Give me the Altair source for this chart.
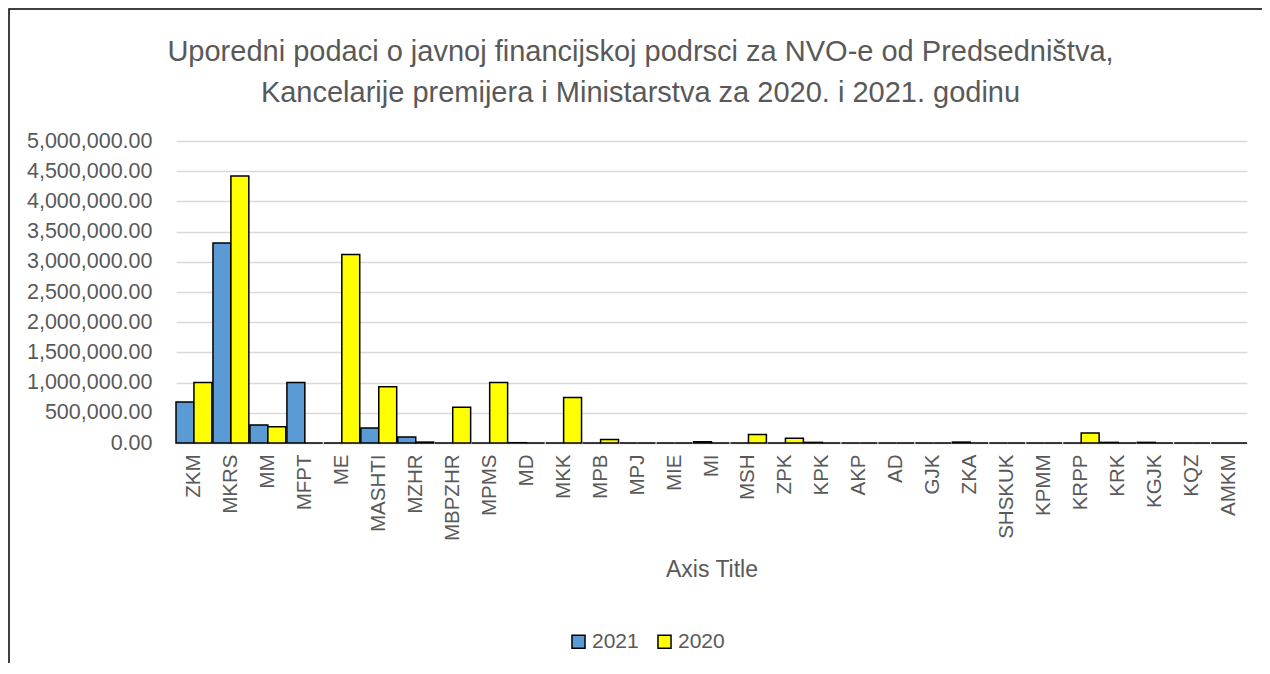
import altair as alt
import pandas as pd

categories = ["ZKM", "MKRS", "MM", "MFPT", "ME", "MASHTI", "MZHR", "MBPZHR", "MPMS", "MD",
              "MKK", "MPB", "MPJ", "MIE", "MI", "MSH", "ZPK", "KPK", "AKP", "AD",
              "GJK", "ZKA", "SHSKUK", "KPMM", "KRPP", "KRK", "KGJK", "KQZ", "AMKM"]
values_2021 = [680000, 3310000, 300000, 1000000, 0, 250000, 100000, 0, 0, 5000,
               0, 0, 0, 0, 20000, 0, 0, 10000, 0, 0,
               0, 15000, 0, 0, 0, 10000, 10000, 0, 0]
values_2020 = [1000000, 4420000, 270000, 0, 3120000, 930000, 15000, 590000, 1000000, 0,
               755000, 60000, 0, 0, 0, 140000, 80000, 0, 0, 0,
               0, 0, 0, 0, 165000, 0, 0, 0, 0]
series = ["2021", "2020"]
colors = ["#5B9BD5", "#FFFF00"]
y_ticks = [i * 500000 for i in range(11)]

title_lines = ["Uporedni podaci o javnoj financijskoj podrsci  za NVO-e od Predsedništva,",
               "Kancelarije premijera i Ministarstva za 2020. i 2021. godinu"]

rows = []
for c, v21, v20 in zip(categories, values_2021, values_2020):
    rows.append({"cat": c, "year": "2021", "value": v21})
    rows.append({"cat": c, "year": "2020", "value": v20})
df = pd.DataFrame(rows)

FONT = "Liberation Sans"
GRAY = "#595959"

bars = alt.Chart(df).mark_bar(stroke="black", strokeWidth=1.5).encode(
    x=alt.X("cat:N", sort=categories,
            scale=alt.Scale(paddingInner=0.03, paddingOuter=0.0),
            axis=alt.Axis(title="Axis Title", labelAngle=270, labelFontSize=20.5,
                          labelColor=GRAY, labelFont=FONT, labelPadding=11,
                          titleFont=FONT, titleFontSize=23, titleColor=GRAY,
                          titleFontWeight="normal", titlePadding=18,
                          domainColor="#D9D9D9", domainWidth=1.5,
                          ticks=False, labelAlign="right", labelBaseline="middle")),
    xOffset=alt.XOffset("year:N", sort=series, scale=alt.Scale(paddingInner=0, paddingOuter=0)),
    y=alt.Y("value:Q", scale=alt.Scale(domain=[0, 5000000], nice=False),
            axis=alt.Axis(title=None, values=y_ticks, format=",.2f", labelFontSize=21.5,
                          labelColor=GRAY, labelFont=FONT, labelPadding=24,
                          domain=False, ticks=False, gridColor="#D9D9D9", gridWidth=1.5)),
    color=alt.Color("year:N", sort=series,
                    scale=alt.Scale(domain=series, range=colors),
                    legend=alt.Legend(title=None, orient="none", direction="horizontal",
                                      legendX=392, legendY=490, symbolType="square",
                                      symbolSize=170, symbolStrokeColor="black",
                                      symbolStrokeWidth=1.5, labelFontSize=21,
                                      labelColor=GRAY, labelFont=FONT, labelOffset=3,
                                      columnPadding=15, symbolOpacity=1)),
)

frame = alt.Chart(alt.Data(values=[{"k": 1}])).mark_rect(
    fillOpacity=0, stroke="black", strokeWidth=1.5
).encode(
    x=alt.value(-167), x2=alt.value(1300),
    y=alt.value(-132), y2=alt.value(700),
)

chart = alt.layer(bars, frame).properties(
    width=1071, height=302,
    title=alt.TitleParams(title_lines, anchor="middle", frame="group", dx=-71, fontSize=29,
                          font=FONT, color=GRAY, fontWeight="normal",
                          lineHeight=41, offset=-100),
    autosize=alt.AutoSizeParams(type="none"),
    padding={"left": 168, "top": 133, "right": 15, "bottom": 220},
).configure_view(stroke=None)

chart.save("out.html", embed_options={"renderer": "svg", "actions": False})
